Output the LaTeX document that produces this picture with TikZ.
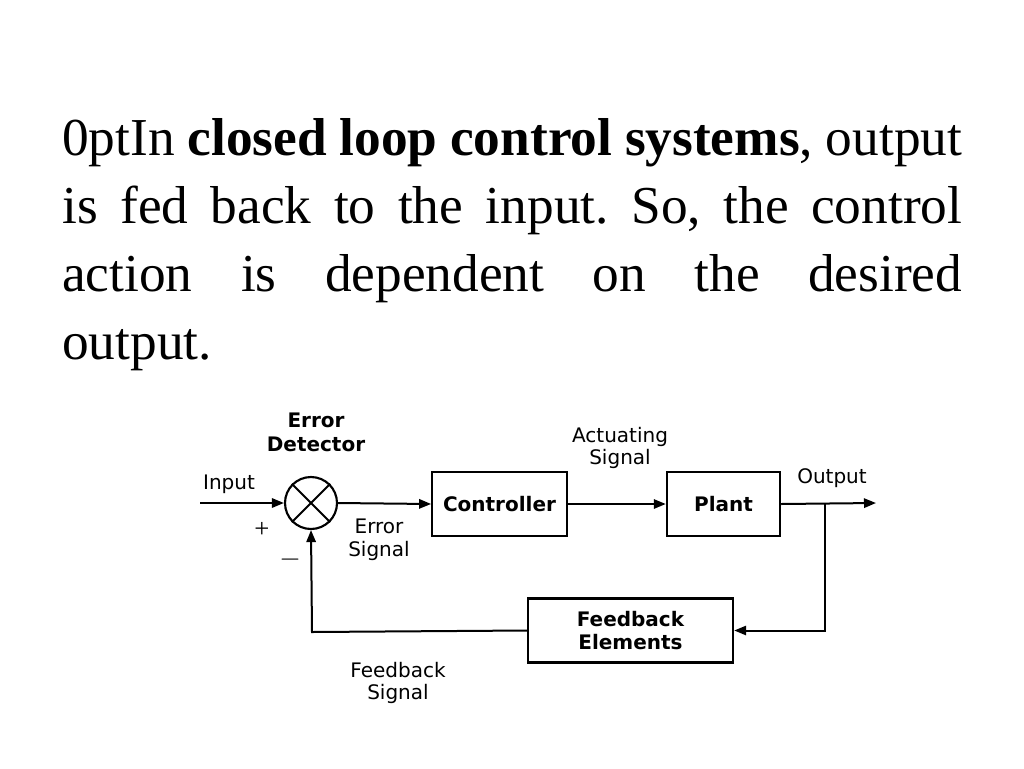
\documentclass[tikz,border=0pt]{standalone}
\usepackage{fontspec}
\setmainfont{Liberation Serif}
\newfontfamily\djvs{DejaVu Sans}
\usetikzlibrary{arrows.meta}
\begin{document}
\begin{tikzpicture}[x=0.75pt,y=-0.75pt,
  blk/.style={draw,line width=1.6pt,minimum width=#1,minimum height=48pt,font=\djvs\bfseries\fontsize{15}{17}\selectfont,inner sep=0pt},
  lbl/.style={font=\djvs\fontsize{15}{17}\selectfont,align=center},
  arr/.style={line width=1.5pt,-{Triangle[length=9pt,width=7pt]}},
  ln/.style={line width=1.5pt}]
\useasboundingbox (0,0) rectangle (1024,768);
\node[anchor=base west,text width=675pt,align=justify,inner sep=0pt,font=\fontsize{40}{51}\selectfont\frenchspacing\hyphenpenalty=10000] (head) at (62,155)
{In \textbf{closed loop control systems}, output\linebreak is fed back to the input. So, the control\linebreak action is dependent on the desired\linebreak output.};
\node[draw,circle,line width=1.6pt,minimum size=39pt,inner sep=0pt] (det) at (311,503) {};
\draw[line width=1.4pt] (det.north west) -- (det.south east) (det.north east) -- (det.south west);
\node[blk=101pt] (ctl) at (499.5,504) {Controller};
\node[blk=85pt] (pl) at (723.5,504) {Plant};
\node[blk=154pt,align=center] (fb) at (630.5,630.5) {Feedback\\Elements};
\coordinate (in) at (200,503);
\coordinate (out) at (876,503);
\coordinate (br) at (825,503);
\draw[arr] (in) -- (det.west);
\draw[arr] (det.east) -- (ctl.west);
\draw[arr] (ctl.east) -- (pl.west);
\draw[arr] (pl.east) -- (out);
\draw[arr] (br) |- (fb.east);
\draw[arr] (fb.west) -- (312,632) -- (det.south);
\node[lbl] (li) at (229,484) {Input};
\node[lbl,font=\djvs\bfseries\fontsize{15}{18}\selectfont] (led) at (316,432) {Error\\Detector};
\node[lbl] (les) at (379,540) {Error\\Signal};
\node[lbl] (las) at (620,448) {Actuating\\Signal};
\node[lbl] (lo) at (832,478) {Output};
\node[lbl] (lfs) at (398,683) {Feedback\\Signal};
\node[font=\fontsize{20}{20}\selectfont] (plus) at (262,530) {+};
\node[font=\fontsize{20}{20}\selectfont] (minus) at (290,560) {$-$};
\end{tikzpicture}
\end{document}
